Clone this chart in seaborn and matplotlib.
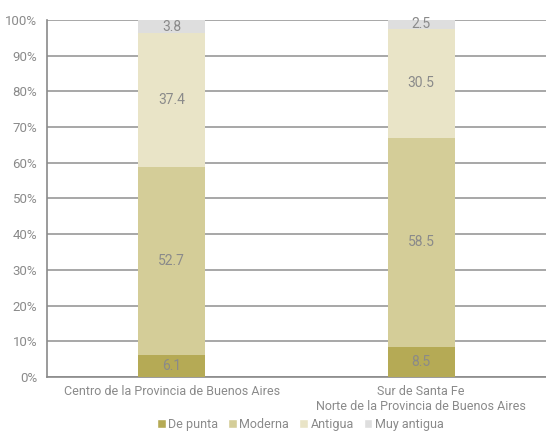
import pandas as pd
import numpy as np
import seaborn as sns
import matplotlib.pyplot as plt
from matplotlib.patches import Patch

# Data
regiones = ["Centro de la Provincia de Buenos Aires",
            "Sur de Santa Fe\nNorte de la Provincia de Buenos Aires"]
series = ["De punta", "Moderna", "Antigua", "Muy antigua"]
de_punta = [6.1, 8.5]
moderna = [52.7, 58.5]
antigua = [37.4, 30.5]
muy_antigua = [3.8, 2.5]

colores = ["#b5aa55", "#d4cd98", "#e9e4c7", "#dedede"]
gris = "#8a8a8a"

sns.set_style("white")
plt.rcParams["font.family"] = ["Roboto", "DejaVu Sans"]
fs = 9

df = pd.DataFrame({"Region": regiones, "De punta": de_punta, "Moderna": moderna,
                   "Antigua": antigua, "Muy antigua": muy_antigua})

fig = plt.figure(figsize=(5.46, 4.40), dpi=100)
ax = fig.add_axes([0.086, 0.143, 0.914, 0.812])

bottom = np.zeros(len(df))
for s, c in zip(series, colores):
    sns.barplot(data=df, x="Region", y=s, color=c, width=0.27, bottom=bottom,
                ax=ax, saturation=1, linewidth=0, zorder=3)
    for i, v in enumerate(df[s]):
        ax.text(i, bottom[i] + v / 2, f"{v:.1f}", ha="center", va="center",
                color=gris, fontsize=fs + 1, zorder=4)
    bottom = bottom + df[s].values

ax.set_ylim(0, 100)
ax.set_xlim(-0.5, 1.5)
ax.set_yticks(range(0, 101, 10))
ax.set_yticklabels([f"{t}%" for t in range(0, 101, 10)], color=gris, fontsize=fs + 0.5)
ax.yaxis.grid(True, color="#a0a0a0", linewidth=1.3, zorder=0)
ax.set_axisbelow(True)
ax.set_xlabel("")
ax.set_ylabel("")
ax.set_xticks([0.5], minor=True)
ax.tick_params(axis="x", which="minor", length=5, color=gris, width=1)
ax.tick_params(axis="x", which="major", length=0, colors=gris, labelsize=fs, pad=6)
ax.tick_params(axis="y", length=5, color=gris, width=1, pad=2)
for sp in ["top", "right"]:
    ax.spines[sp].set_visible(False)
for sp in ["left", "bottom"]:
    ax.spines[sp].set_color(gris)
    ax.spines[sp].set_linewidth(1.2)

handles = [Patch(facecolor=c, label=s) for s, c in zip(series, colores)]
fig.legend(handles=handles, loc="lower center", bbox_to_anchor=(0.55, -0.005), ncol=4,
           frameon=False, fontsize=fs, handlelength=0.7, handleheight=0.7,
           handletextpad=0.2, columnspacing=0.8, labelcolor=gris)

fig.savefig("out.png", dpi=100)
